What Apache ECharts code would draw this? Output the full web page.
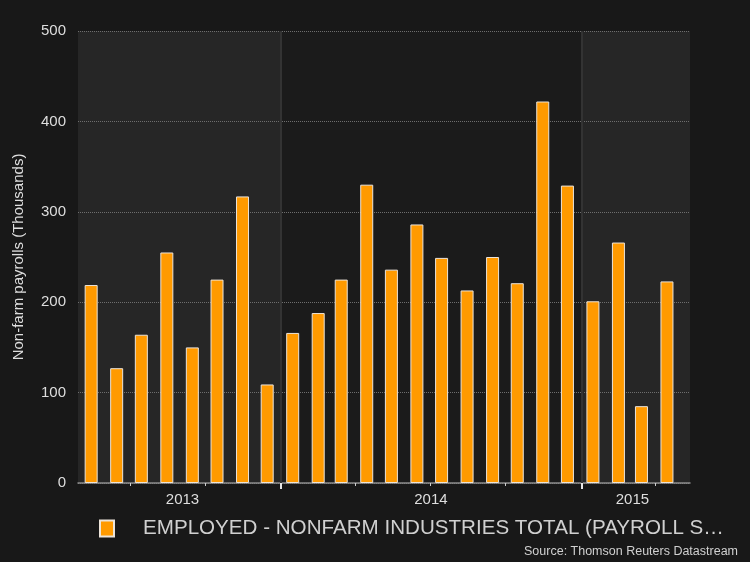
<!DOCTYPE html>
<html>
<head>
<meta charset="utf-8">
<script src="https://cdn.jsdelivr.net/npm/echarts@6/dist/echarts.min.js"></script>
<style>
html,body{margin:0;padding:0;background:#181818;}
#chart{width:750px;height:562px;}
</style>
</head>
<body>
<div id="chart"></div>
<script>
// ---- data ----
var months = ['2013-05','2013-06','2013-07','2013-08','2013-09','2013-10','2013-11','2013-12',
  '2014-01','2014-02','2014-03','2014-04','2014-05','2014-06','2014-07','2014-08','2014-09','2014-10','2014-11','2014-12',
  '2015-01','2015-02','2015-03','2015-04'];
var payrolls = [219,127,164,255,150,225,317,109, 166,188,225,330,236,286,249,213,250,221,422,329, 201,266,85,223];
var quarterTicks = ['2013-07-01','2013-10-01','2014-01-01','2014-04-01','2014-07-01','2014-10-01','2015-01-01','2015-04-01'];
var yearBoundaries = ['2014-01-01','2015-01-01'];
var yearLabels = ['2013','2014','2015'];
var yearLabelDates = ['2013-09-03','2014-07-02','2015-03-04'];
var axisStart = '2013-04-29', axisEnd = '2015-05-13';
var seriesName = 'EMPLOYED - NONFARM INDUSTRIES TOTAL (PAYROLL S\u2026';

// day numbers relative to 1 May 2013
var base = Date.UTC(2013,4,1);
function day(s){ var p=s.split('-'); return Math.round((Date.UTC(+p[0],+p[1]-1,p[2]?+p[2]:1)-base)/86400000); }
var xMin = day(axisStart), xMax = day(axisEnd);
var barData = months.map(function(m,i){ return [day(m+'-15'), payrolls[i]]; });
var qTicks = quarterTicks.map(day);
var yb = yearBoundaries.map(day);
var yLabPos = yearLabelDates.map(day);
var bands = [[xMin, yb[0], '#262626'], [yb[0], yb[1], '#1b1b1b'], [yb[1], xMax, '#262626']];

var chart = echarts.init(document.getElementById('chart'));
var labelColor = '#dedede';
chart.setOption({
  backgroundColor: '#181818',
  animation: false,
  textStyle: {fontFamily: 'Liberation Sans, Arial, sans-serif'},
  grid: {left: 78, top: 31, right: 60, bottom: 79},
  legend: {
    left: 94, top: 513, padding: 5,
    icon: 'rect', itemWidth: 14, itemHeight: 16,
    textStyle: {color: '#d0d0d0', fontSize: 20.6, lineHeight: 20, padding: [0,0,0,24]},
    data: [seriesName]
  },
  graphic: [{
    type: 'text', right: 12, top: 545,
    style: {text: 'Source: Thomson Reuters Datastream', fill: '#d0d0d0', font: '12.5px "Liberation Sans Narrow", "Liberation Sans", sans-serif'}
  }],
  xAxis: [{
    type: 'value', min: xMin, max: xMax, position: 'bottom', z: 3,
    axisLine: {show: true, lineStyle: {color: '#8c8c8c', width: 1.5}},
    axisTick: {show: true, customValues: qTicks, length: 3, lineStyle: {color: '#cfcfcf', width: 1}},
    axisLabel: {show: true, customValues: yLabPos, color: labelColor, fontSize: 15, margin: 9,
      formatter: function(v){ var i = yLabPos.indexOf(v); return i >= 0 ? yearLabels[i] : ''; }},
    splitLine: {show: false}
  }, {
    type: 'value', min: xMin, max: xMax, position: 'bottom', z: 3,
    axisLine: {show: false},
    axisTick: {show: true, customValues: yb, length: 6, lineStyle: {color: '#e6e6e6', width: 2}},
    axisLabel: {show: false},
    splitLine: {show: false}
  }],
  yAxis: {
    type: 'value', min: 0, max: 500, interval: 100, z: 2,
    name: 'Non-farm payrolls (Thousands)', nameLocation: 'middle', nameGap: 52, nameRotate: 90,
    nameTextStyle: {color: labelColor, fontSize: 15},
    axisLine: {show: false}, axisTick: {show: false},
    axisLabel: {color: labelColor, fontSize: 15, margin: 12},
    splitLine: {show: true, lineStyle: {color: '#6e6e6e', width: 1, type: [1,1]}}
  },
  series: [{
    type: 'custom', z: 1, silent: true, xAxisIndex: 0,
    data: bands,
    renderItem: function(params, api){
      var p0 = api.coord([api.value(0), 500]);
      var p1 = api.coord([api.value(1), 0]);
      return {type: 'rect', shape: {x: p0[0], y: p0[1], width: p1[0]-p0[0], height: p1[1]-p0[1]},
        style: {fill: bands[params.dataIndex][2]}};
    },
    markLine: {
      silent: true, symbol: 'none', label: {show: false},
      lineStyle: {color: '#333333', width: 2, type: 'solid'},
      data: yb.map(function(v){ return {xAxis: v}; })
    }
  }, {
    name: seriesName,
    type: 'bar', z: 4, xAxisIndex: 0,
    barWidth: 13,
    data: barData,
    itemStyle: {color: '#ff9a00', borderColor: '#ece4da', borderWidth: 1}
  }]
});
</script>
</body>
</html>
